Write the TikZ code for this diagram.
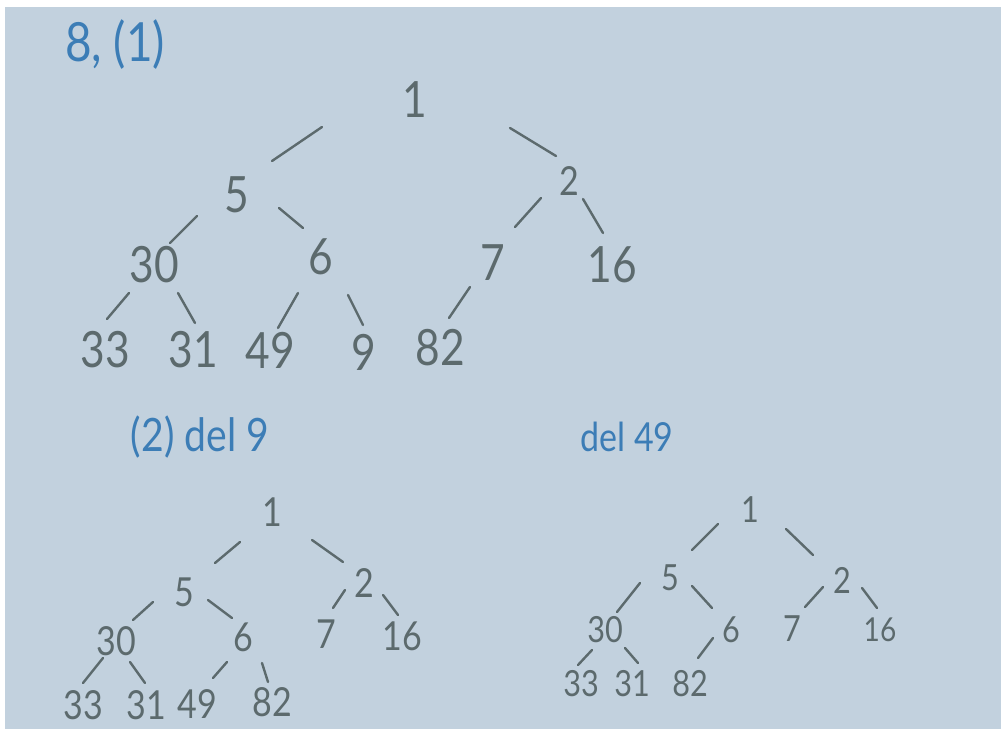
\documentclass[tikz,border=0pt]{standalone}
\usepackage{fontspec}
\setmainfont{Lato}[FakeStretch=0.85]
\definecolor{paper}{HTML}{C2D1DE}
\definecolor{ink}{HTML}{5C6A6D}
\definecolor{pen}{HTML}{3C7DB6}
\tikzset{
  big/.style={text=ink, inner sep=0pt, font=\fontsize{50}{52}\selectfont},
  mid/.style={text=ink, inner sep=0pt, font=\fontsize{40}{42}\selectfont},
  small/.style={text=ink, inner sep=0pt, font=\fontsize{36}{38}\selectfont},
  lab/.style={text=pen, inner sep=0pt},
  edge/.style={draw=ink, line width=2.4pt, line cap=round},
}
\begin{document}
\begin{tikzpicture}[x=1pt,y=-1pt]
\useasboundingbox (0,0) rectangle (1001,733);
\fill[white] (0,0) rectangle (1001,733);
\fill[paper] (5,7) rectangle (1001,729);

% labels
\node[lab, font=\fontsize{54}{56}\selectfont] (l1) at (115,45) {8, (1)};
\node[lab, font=\fontsize{46}{48}\selectfont] (l2) at (200,437) {(2) del 9};
\node[lab, font=\fontsize{40}{42}\selectfont] (l3) at (627,437) {del 49};

% ---------- tree 1 ----------
\node[big] (a1) at (415,100) {1};
\node[big] (a5) at (237,195) {5};
\node[big, font=\fontsize{40}{42}\selectfont] (a2) at (569,181) {2};
\node[big] (a30) at (154,265) {30};
\node[big] (a6) at (321,257) {6};
\node[big] (a7) at (493,263) {7};
\node[big] (a16) at (612,265) {16};
\node[big] (a33) at (105,350) {33};
\node[big] (a31) at (193,350) {31};
\node[big] (a49) at (270,350) {49};
\node[big] (a9) at (364,352) {9};
\node[big] (a82) at (440,348) {82};

\coordinate (a1s5) at (322,127); \coordinate (a1e5) at (272,161);
\coordinate (a1s2) at (510,128); \coordinate (a1e2) at (556,156);
\coordinate (a5s30) at (197,216); \coordinate (a5e30) at (170,243);
\coordinate (a5s6) at (279,208); \coordinate (a5e6) at (303,228);
\coordinate (a2s7) at (541,198); \coordinate (a2e7) at (515,227);
\coordinate (a2s16) at (583,199); \coordinate (a2e16) at (603,233);
\coordinate (a30s33) at (129,293); \coordinate (a30e33) at (107,319);
\coordinate (a30s31) at (178,293); \coordinate (a30e31) at (195,323);
\coordinate (a6s49) at (298,293); \coordinate (a6e49) at (278,328);
\coordinate (a6s9) at (348,295); \coordinate (a6e9) at (363,325);
\coordinate (a7s82) at (470,287); \coordinate (a7e82) at (449,318);

\draw[edge] (a1s5) -- (a1e5);
\draw[edge] (a1s2) -- (a1e2);
\draw[edge] (a5s30) -- (a5e30);
\draw[edge] (a5s6) -- (a5e6);
\draw[edge] (a2s7) -- (a2e7);
\draw[edge] (a2s16) -- (a2e16);
\draw[edge] (a30s33) -- (a30e33);
\draw[edge] (a30s31) -- (a30e31);
\draw[edge] (a6s49) -- (a6e49);
\draw[edge] (a6s9) -- (a6e9);
\draw[edge] (a7s82) -- (a7e82);

% ---------- tree 2 ----------
\node[mid] (b1) at (272,512) {1};
\node[mid] (b5) at (184,592) {5};
\node[mid] (b2) at (364,583) {2};
\node[mid] (b30) at (116,641) {30};
\node[mid] (b6) at (243,637) {6};
\node[mid] (b7) at (326,634) {7};
\node[mid] (b16) at (402,636) {16};
\node[mid] (b33) at (83,705) {33};
\node[mid] (b31) at (146,705) {31};
\node[mid] (b49) at (197,704) {49};
\node[mid] (b82) at (272,702) {82};

\coordinate (b1s5) at (240,542); \coordinate (b1e5) at (215,563);
\coordinate (b1s2) at (312,540); \coordinate (b1e2) at (343,562);
\coordinate (b5s30) at (153,602); \coordinate (b5e30) at (133,620);
\coordinate (b5s6) at (208,600); \coordinate (b5e6) at (232,618);
\coordinate (b2s7) at (345,590); \coordinate (b2e7) at (333,608);
\coordinate (b2s16) at (383,595); \coordinate (b2e16) at (398,615);
\coordinate (b30s33) at (103,658); \coordinate (b30e33) at (83,683);
\coordinate (b30s31) at (130,662); \coordinate (b30e31) at (145,683);
\coordinate (b6s49) at (227,662); \coordinate (b6e49) at (213,678);
\coordinate (b6s82) at (262,663); \coordinate (b6e82) at (268,682);

\draw[edge] (b1s5) -- (b1e5);
\draw[edge] (b1s2) -- (b1e2);
\draw[edge] (b5s30) -- (b5e30);
\draw[edge] (b5s6) -- (b5e6);
\draw[edge] (b2s7) -- (b2e7);
\draw[edge] (b2s16) -- (b2e16);
\draw[edge] (b30s33) -- (b30e33);
\draw[edge] (b30s31) -- (b30e31);
\draw[edge] (b6s49) -- (b6e49);
\draw[edge] (b6s82) -- (b6e82);

% ---------- tree 3 ----------
\node[small] (c1) at (750,510) {1};
\node[small] (c5) at (670,578) {5};
\node[small] (c2) at (842,580) {2};
\node[small] (c30) at (605,630) {30};
\node[small] (c6) at (731,630) {6};
\node[small] (c7) at (792,629) {7};
\node[small, font=\fontsize{33}{35}\selectfont] (c16) at (880,630) {16};
\node[small] (c33) at (581,684) {33};
\node[small] (c31) at (632,684) {31};
\node[small] (c82) at (690,684) {82};

\coordinate (c1s5) at (718,524); \coordinate (c1e5) at (692,550);
\coordinate (c1s2) at (786,529); \coordinate (c1e2) at (813,555);
\coordinate (c5s30) at (640,583); \coordinate (c5e30) at (617,612);
\coordinate (c5s6) at (692,586); \coordinate (c5e6) at (712,608);
\coordinate (c2s7) at (823,587); \coordinate (c2e7) at (805,607);
\coordinate (c2s16) at (862,588); \coordinate (c2e16) at (877,608);
\coordinate (c30s33) at (592,650); \coordinate (c30e33) at (578,665);
\coordinate (c30s31) at (625,648); \coordinate (c30e31) at (638,663);
\coordinate (c6s82) at (713,638); \coordinate (c6e82) at (698,658);

\draw[edge] (c1s5) -- (c1e5);
\draw[edge] (c1s2) -- (c1e2);
\draw[edge] (c5s30) -- (c5e30);
\draw[edge] (c5s6) -- (c5e6);
\draw[edge] (c2s7) -- (c2e7);
\draw[edge] (c2s16) -- (c2e16);
\draw[edge] (c30s33) -- (c30e33);
\draw[edge] (c30s31) -- (c30e31);
\draw[edge] (c6s82) -- (c6e82);
\end{tikzpicture}
\end{document}
